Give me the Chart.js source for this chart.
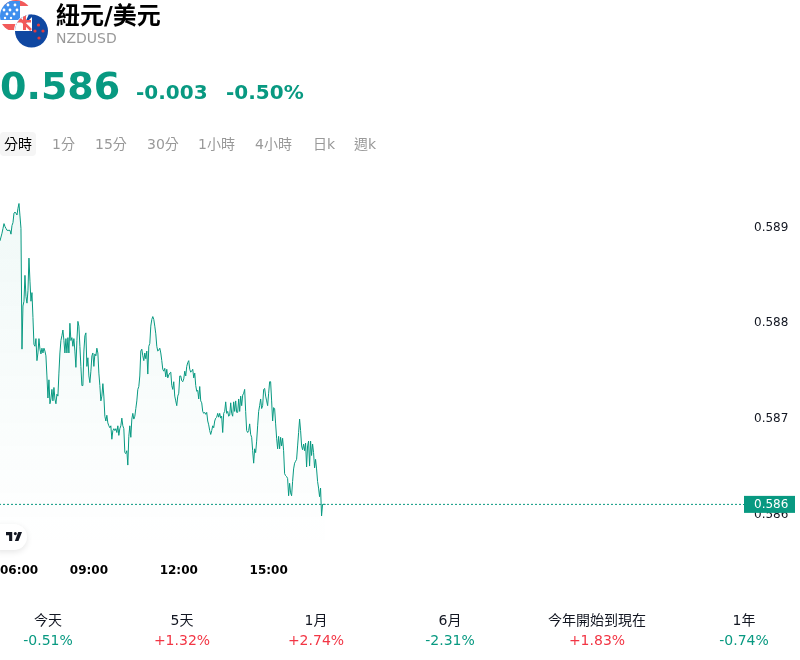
<!DOCTYPE html>
<html>
<head>
<meta charset="utf-8">
<script src="https://cdn.jsdelivr.net/npm/chart.js@4"></script>
<style>
  * { box-sizing: border-box; }
  html, body { margin: 0; background: #fff; overflow: hidden; width: 800px; height: 660px; }
  body { font-family: "DejaVu Sans", "Noto Sans CJK TC", sans-serif; }
  #page { position: absolute; left: 0; top: 0; width: 800px; height: 660px; will-change: transform; }
  .abs { position: absolute; white-space: nowrap; }
  .title { left: 56px; top: 0; font-size: 24px; font-weight: 700; line-height: 32px; color: #000; }
  .sym { left: 56px; top: 30px; font-size: 14px; line-height: 17px; color: #999; }
  .price { left: 0; top: 63px; font-size: 38px; font-weight: 700; line-height: 46px; color: #089981; }
  .chg { top: 80px; font-size: 20px; font-weight: 700; line-height: 24px; color: #089981; }
  .tabbg { left: 0; top: 132px; width: 36px; height: 24px; background: #f5f5f5; border-radius: 4px; }
  .tab { top: 135px; font-size: 14px; line-height: 18px; color: #999; }
  .tab.on { color: #000; }
  #wrap { position: absolute; left: -1px; top: 160px; width: 801px; height: 420px; }
  .badge { left: -12px; top: 524px; width: 39px; height: 26px; background: #fff; border-radius: 13px; box-shadow: 0 2px 6px rgba(0,0,0,.1); }
  .plabel { top: 611px; font-size: 14px; line-height: 18px; color: #131722; transform: translateX(-50%); }
  .pvalue { top: 631px; font-size: 14px; line-height: 18px; transform: translateX(-50%); }
</style>
</head>
<body>
<div id="page">
<svg class="abs" style="left:0;top:0" width="50" height="49" viewBox="0 0 50 49">
  <defs>
    <clipPath id="us"><circle cx="16" cy="16" r="16"/></clipPath>
    <clipPath id="nz"><circle cx="31.5" cy="31" r="16.5"/></clipPath>
  </defs>
  <g clip-path="url(#us)">
    <rect x="0" y="0" width="32" height="32" fill="#fff"/>
    <rect x="0" y="0" width="32" height="6" fill="#f25a5a"/>
    <rect x="0" y="24" width="32" height="6" fill="#f25a5a"/>
    <rect x="0" y="1" width="20" height="19" fill="#3f8fee"/>
    <g fill="#fff">
      <circle cx="8" cy="5" r="1.4"/><circle cx="15" cy="5" r="1.4"/>
      <circle cx="4" cy="10" r="1.4"/><circle cx="10" cy="10" r="1.4"/><circle cx="17" cy="10" r="1.4"/>
      <circle cx="7" cy="14" r="1.4"/><circle cx="14" cy="14" r="1.4"/>
      <circle cx="5" cy="18" r="1.2"/><circle cx="11" cy="18" r="1.2"/>
    </g>
  </g>
  <circle cx="31.5" cy="31" r="17.5" fill="#fff"/>
  <g clip-path="url(#nz)">
    <rect x="14" y="14" width="36" height="36" fill="#0f47a1"/>
    <path d="M15 14 H32 V31 H15 Z" fill="#fff"/>
    <path d="M29 14 H32 V17 L24 25 Z" fill="#0f47a1"/>
    <path d="M18 17 L31 30" stroke="#f25a5a" stroke-width="2.5"/>
    <rect x="23" y="14" width="3" height="16" fill="#f25a5a"/>
    <rect x="15" y="20" width="16" height="2.5" fill="#f25a5a"/>
    <g fill="#e03a3e">
      <circle cx="38.5" cy="25" r="1.6"/><circle cx="43" cy="31" r="1.6"/><circle cx="35" cy="31" r="1.6"/><circle cx="39" cy="38" r="1.6"/>
    </g>
  </g>
</svg>
<div class="abs title">紐元/美元</div>
<div class="abs sym">NZDUSD</div>
<div class="abs price">0.586</div>
<div class="abs chg" style="left:136px">-0.003</div>
<div class="abs chg" style="left:226px">-0.50%</div>
<div class="abs tabbg"></div>
<div id="tabs"></div>
<div id="wrap"><canvas id="chart"></canvas></div>
<div class="abs badge"></div>
<svg class="abs" style="left:6px;top:532px" width="16" height="9" viewBox="0 0 36 20">
  <path fill="#131722" d="M14 0H0v7h7v13h7zM28 20h-8l7.5-20H36zM21 7a3.5 3.5 0 1 0 0-7 3.5 3.5 0 0 0 0 7z"/>
</svg>
<div id="periods"></div>
</div>
<script>
const tabNames = ["分時", "1分", "15分", "30分", "1小時", "4小時", "日k", "週k"];
const tabLefts = [4, 52, 95, 147, 198, 255, 313, 354];
const periodNames = ["今天", "5天", "1月", "6月", "今年開始到現在", "1年"];
const periodValues = ["-0.51%", "+1.32%", "+2.74%", "-2.31%", "+1.83%", "-0.74%"];
const periodCenters = [48, 182, 316, 450, 597, 744];

const timeTicks = ["06:00", "09:00", "12:00", "15:00"];
const priceTicks = [0.586, 0.587, 0.588, 0.589];
const lastPrice = 0.58611;

// one reading every 2 minutes from 06:02
const prices = [
  0.58886, 0.58890, 0.58894, 0.58899, 0.58904, 0.58901, 0.58899, 0.58897, 0.58897, 0.58897,
  0.58897, 0.58893, 0.58902, 0.58905, 0.58915, 0.58916, 0.58915, 0.58913, 0.58920, 0.58925,
  0.58912, 0.58899, 0.58773, 0.58818, 0.58823, 0.58850, 0.58828, 0.58821, 0.58834, 0.58868,
  0.58844, 0.58823, 0.58832, 0.58806, 0.58778, 0.58776, 0.58784, 0.58761, 0.58769, 0.58784,
  0.58773, 0.58768, 0.58774, 0.58769, 0.58774, 0.58771, 0.58766, 0.58745, 0.58722, 0.58741,
  0.58716, 0.58721, 0.58731, 0.58719, 0.58733, 0.58721, 0.58716, 0.58726, 0.58724, 0.58748,
  0.58769, 0.58782, 0.58787, 0.58793, 0.58782, 0.58769, 0.58784, 0.58769, 0.58785, 0.58769,
  0.58800, 0.58782, 0.58785, 0.58776, 0.58784, 0.58771, 0.58754, 0.58782, 0.58802, 0.58797,
  0.58776, 0.58755, 0.58735, 0.58735, 0.58771, 0.58787, 0.58790, 0.58755, 0.58764, 0.58745,
  0.58738, 0.58750, 0.58766, 0.58769, 0.58755, 0.58768, 0.58766, 0.58774, 0.58769, 0.58748,
  0.58735, 0.58719, 0.58724, 0.58737, 0.58724, 0.58703, 0.58698, 0.58704, 0.58696, 0.58693,
  0.58691, 0.58693, 0.58679, 0.58688, 0.58690, 0.58688, 0.58690, 0.58686, 0.58693, 0.58683,
  0.58690, 0.58693, 0.58701, 0.58693, 0.58690, 0.58665, 0.58664, 0.58667, 0.58652, 0.58682,
  0.58693, 0.58681, 0.58700, 0.58706, 0.58700, 0.58703, 0.58711, 0.58719, 0.58731, 0.58734,
  0.58745, 0.58771, 0.58773, 0.58766, 0.58761, 0.58769, 0.58763, 0.58771, 0.58747, 0.58776,
  0.58779, 0.58797, 0.58804, 0.58807, 0.58804, 0.58797, 0.58789, 0.58776, 0.58771, 0.58772,
  0.58774, 0.58769, 0.58761, 0.58752, 0.58750, 0.58753, 0.58744, 0.58752, 0.58743, 0.58746,
  0.58748, 0.58749, 0.58735, 0.58731, 0.58739, 0.58724, 0.58719, 0.58714, 0.58724, 0.58727,
  0.58745, 0.58745, 0.58740, 0.58739, 0.58742, 0.58750, 0.58745, 0.58755, 0.58759, 0.58761,
  0.58752, 0.58749, 0.58750, 0.58752, 0.58743, 0.58748, 0.58735, 0.58729, 0.58730, 0.58721,
  0.58734, 0.58719, 0.58717, 0.58708, 0.58706, 0.58707, 0.58705, 0.58707, 0.58698, 0.58694,
  0.58688, 0.58684, 0.58688, 0.58693, 0.58691, 0.58698, 0.58701, 0.58702, 0.58706, 0.58702,
  0.58706, 0.58701, 0.58703, 0.58686, 0.58706, 0.58708, 0.58718, 0.58706, 0.58708, 0.58703,
  0.58704, 0.58717, 0.58706, 0.58703, 0.58718, 0.58708, 0.58719, 0.58707, 0.58707, 0.58721,
  0.58708, 0.58724, 0.58714, 0.58725, 0.58727, 0.58731, 0.58708, 0.58688, 0.58686, 0.58688,
  0.58695, 0.58684, 0.58681, 0.58667, 0.58654, 0.58669, 0.58665, 0.58677, 0.58693, 0.58708,
  0.58714, 0.58721, 0.58711, 0.58714, 0.58731, 0.58732, 0.58724, 0.58719, 0.58714, 0.58727,
  0.58739, 0.58739, 0.58719, 0.58698, 0.58712, 0.58711, 0.58695, 0.58680, 0.58669, 0.58682,
  0.58669, 0.58681, 0.58672, 0.58680, 0.58667, 0.58643, 0.58641, 0.58640, 0.58638, 0.58620,
  0.58633, 0.58623, 0.58620, 0.58635, 0.58648, 0.58654, 0.58656, 0.58658, 0.58672, 0.58686,
  0.58700, 0.58688, 0.58672, 0.58668, 0.58674, 0.58667, 0.58675, 0.58650, 0.58672, 0.58677,
  0.58651, 0.58677, 0.58662, 0.58674, 0.58665, 0.58649, 0.58658, 0.58648, 0.58635, 0.58628,
  0.58619, 0.58628, 0.58599, 0.58611, 0.58611, 0.58611, 0.58611
];

const green = "#089981";
const red = "#f23645";
const axisEnd = 1492; // minutes after 06:00 where the plot stops

tabNames.forEach((name, i) => {
  const el = document.createElement("div");
  el.className = "abs tab" + (i === 0 ? " on" : "");
  el.style.left = tabLefts[i] + "px";
  el.textContent = name;
  document.getElementById("tabs").appendChild(el);
});

periodNames.forEach((name, i) => {
  const box = document.getElementById("periods");
  const a = document.createElement("div");
  a.className = "abs plabel";
  a.style.left = periodCenters[i] + "px";
  a.textContent = name;
  box.appendChild(a);
  const b = document.createElement("div");
  b.className = "abs pvalue";
  b.style.left = periodCenters[i] + "px";
  b.style.color = periodValues[i][0] === "-" ? green : red;
  b.textContent = periodValues[i];
  box.appendChild(b);
});

// green price tag on the right axis, drawn over the tick labels
const priceTag = {
  id: "priceTag",
  afterDraw(chart) {
    const c = chart.ctx;
    const y = chart.scales.y.getPixelForValue(lastPrice);
    c.save();
    c.fillStyle = green;
    c.fillRect(745, y - 8.5, 51, 17);
    c.fillStyle = "#fff";
    c.font = '12px "DejaVu Sans"';
    c.textBaseline = "middle";
    c.textAlign = "left";
    c.fillText(lastPrice.toFixed(3), 755, y + 0.5);
    c.restore();
  },
};

const noPadding = (scale) => {
  scale.paddingLeft = scale.paddingRight = scale.paddingTop = scale.paddingBottom = 0;
};

new Chart(document.getElementById("chart"), {
  type: "line",
  data: {
    datasets: [
      {
        data: prices.map((p, i) => ({ x: (i + 1) * 2, y: p })),
        borderColor: green,
        borderWidth: 1,
        pointRadius: 0,
        tension: 0,
        fill: "start",
        backgroundColor: function (context) {
          const area = context.chart.chartArea;
          if (!area) return "transparent";
          const g = context.chart.ctx.createLinearGradient(0, 40, 0, area.bottom);
          g.addColorStop(0, "rgba(8,153,129,0.06)");
          g.addColorStop(1, "rgba(8,153,129,0)");
          return g;
        },
      },
      {
        data: [
          { x: 0, y: lastPrice },
          { x: axisEnd, y: lastPrice },
        ],
        borderColor: green,
        borderWidth: 1,
        borderDash: [2, 2],
        pointRadius: 0,
        fill: false,
      },
    ],
  },
  plugins: [priceTag],
  options: {
    responsive: true,
    maintainAspectRatio: false,
    animation: false,
    layout: { padding: 0 },
    plugins: { legend: { display: false }, tooltip: { enabled: false } },
    scales: {
      x: {
        type: "linear",
        min: 0,
        max: axisEnd,
        grid: { display: false },
        border: { display: false },
        afterFit: (scale) => { scale.height = 28; noPadding(scale); },
        afterBuildTicks: (scale) => {
          scale.ticks = [2, 180, 360, 540, axisEnd].map((value) => ({ value }));
        },
        ticks: {
          autoSkip: false,
          maxRotation: 0,
          align: "inner",
          padding: 4,
          color: "#000",
          font: { family: "DejaVu Sans", size: 12, weight: "bold" },
          callback: (value, index) => timeTicks[index] || "",
        },
      },
      y: {
        position: "right",
        min: 0.585613,
        max: 0.589704,
        grid: { display: false },
        border: { display: false },
        afterFit: (scale) => { scale.width = 56; noPadding(scale); },
        afterBuildTicks: (scale) => {
          scale.ticks = priceTicks.map((value) => ({ value }));
        },
        ticks: {
          padding: 2,
          color: "#131722",
          font: { family: "DejaVu Sans", size: 12 },
          callback: (value) => value.toFixed(3),
        },
      },
    },
  },
});
</script>
</body>
</html>
